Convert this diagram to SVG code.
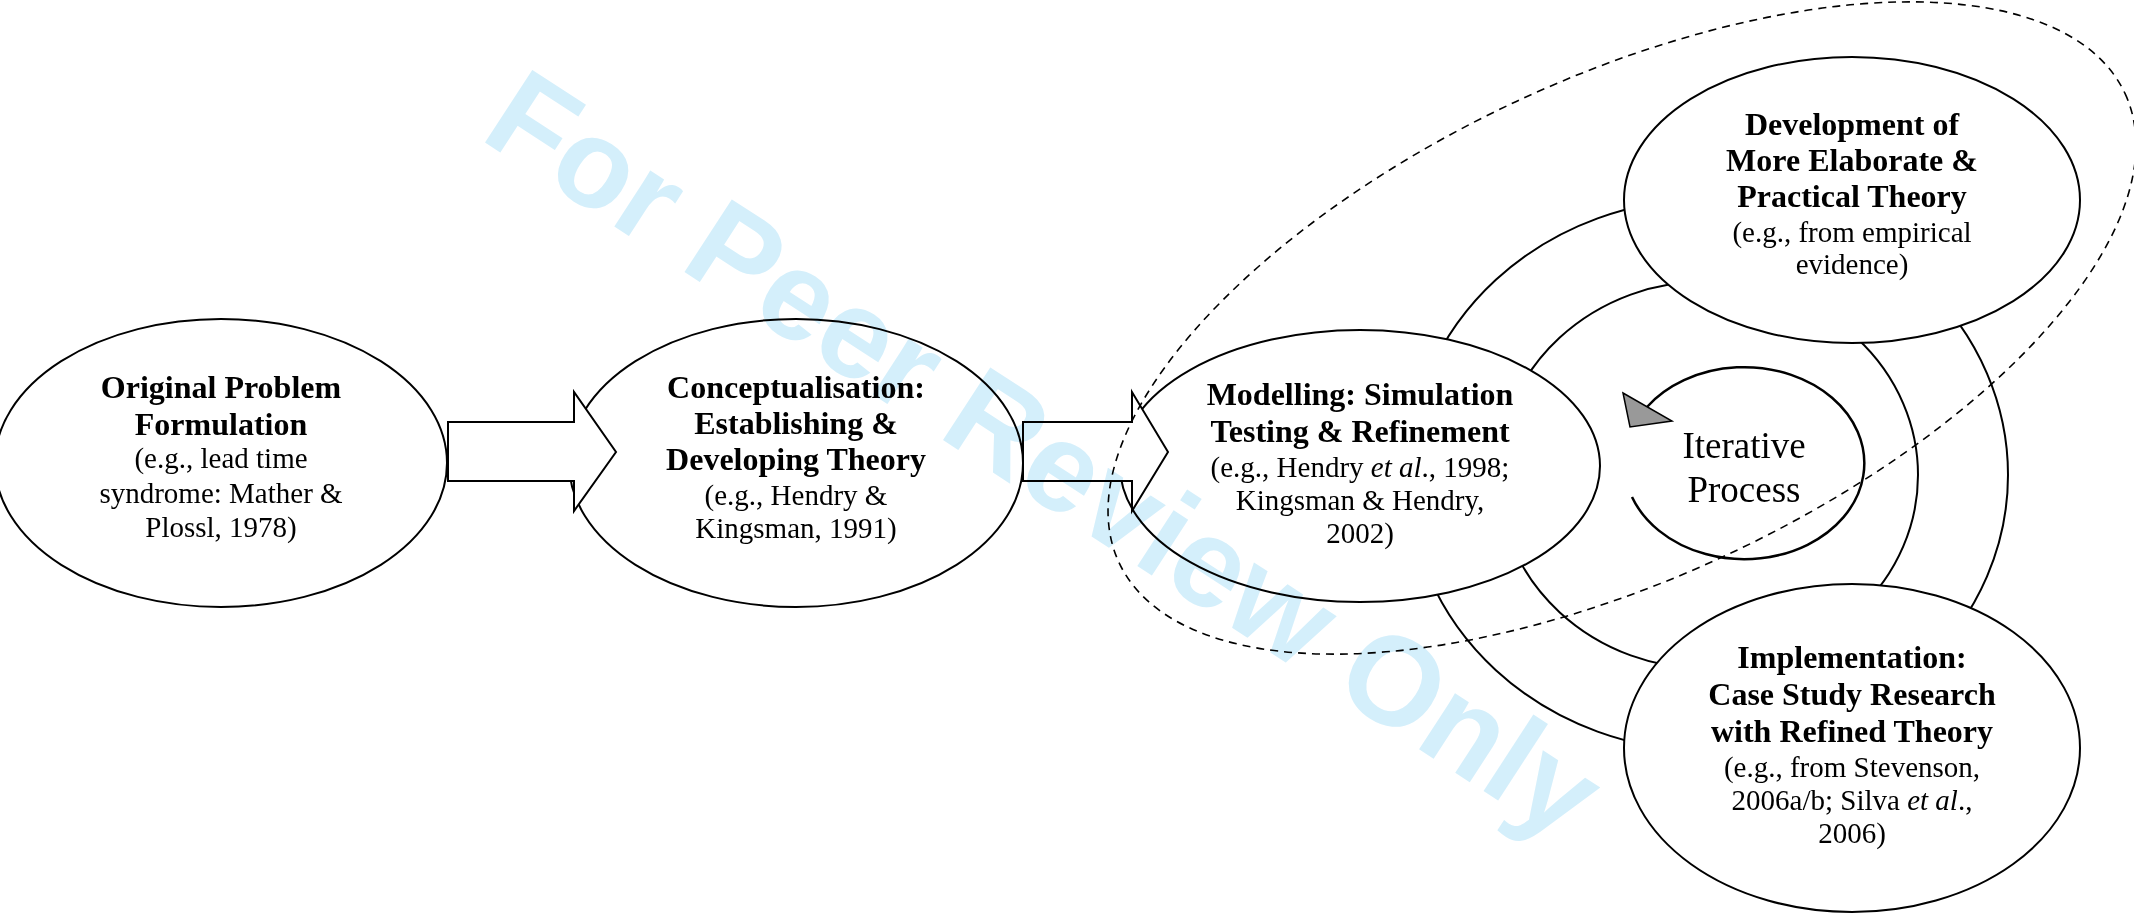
<svg xmlns="http://www.w3.org/2000/svg" width="2134" height="913" viewBox="0 0 2134 913">
<defs>
<style>
.node{fill:#fff;stroke:#000;stroke-width:2}
.ring{fill:none;stroke:#000;stroke-width:2}
.arrow{fill:#fff;stroke:#000;stroke-width:2;stroke-linejoin:miter}
.dash{fill:none;stroke:#000;stroke-width:1.6;stroke-dasharray:8 6}
.b{font-family:"Liberation Serif","Times New Roman",serif;font-weight:bold;font-size:32px;text-anchor:middle;fill:#000}
.r{font-family:"Liberation Serif","Times New Roman",serif;font-size:29px;text-anchor:middle;fill:#000}
.it{font-style:italic}
.wm{font-family:"Liberation Sans",Arial,sans-serif;font-weight:bold;font-size:126px;fill:#d4effb;mix-blend-mode:multiply}
</style>
</defs>
<rect width="2134" height="913" fill="#fff"/>

<g id="cycle-rings">
<ellipse class="ring" cx="1708" cy="475" rx="210" ry="194"/>
<ellipse class="ring" cx="1708" cy="475" rx="300" ry="276"/>
</g>

<g id="node-original">
<ellipse class="node" cx="221" cy="463" rx="226" ry="144"/>
<text class="b" x="221" y="398">Original Problem</text>
<text class="b" x="221" y="435">Formulation</text>
<text class="r" x="221" y="468">(e.g., lead time</text>
<text class="r" x="221" y="503">syndrome: Mather &amp;</text>
<text class="r" x="221" y="537">Plossl, 1978)</text>
</g>

<g id="node-conceptualisation">
<ellipse class="node" cx="796" cy="463" rx="227" ry="144"/>
<text class="b" x="796" y="398">Conceptualisation:</text>
<text class="b" x="796" y="434">Establishing &amp;</text>
<text class="b" x="796" y="470">Developing Theory</text>
<text class="r" x="796" y="505">(e.g., Hendry &amp;</text>
<text class="r" x="796" y="538">Kingsman, 1991)</text>
</g>

<g id="node-modelling">
<ellipse class="node" cx="1360" cy="466" rx="240" ry="136"/>
<text class="b" x="1360" y="405">Modelling: Simulation</text>
<text class="b" x="1360" y="442">Testing &amp; Refinement</text>
<text class="r" x="1360" y="477">(e.g., Hendry <tspan class="it">et al</tspan>., 1998;</text>
<text class="r" x="1360" y="510">Kingsman &amp; Hendry,</text>
<text class="r" x="1360" y="543">2002)</text>
</g>

<g id="node-development">
<ellipse class="node" cx="1852" cy="200" rx="228" ry="143"/>
<text class="b" x="1852" y="135">Development of</text>
<text class="b" x="1852" y="171">More Elaborate &amp;</text>
<text class="b" x="1852" y="207">Practical Theory</text>
<text class="r" x="1852" y="242">(e.g., from empirical</text>
<text class="r" x="1852" y="274">evidence)</text>
</g>

<g id="node-implementation">
<ellipse class="node" cx="1852" cy="748" rx="228" ry="164"/>
<text class="b" x="1852" y="668">Implementation:</text>
<text class="b" x="1852" y="705">Case Study Research</text>
<text class="b" x="1852" y="742">with Refined Theory</text>
<text class="r" x="1852" y="777">(e.g., from Stevenson,</text>
<text class="r" x="1852" y="810">2006a/b; Silva <tspan class="it">et al</tspan>.,</text>
<text class="r" x="1852" y="843">2006)</text>
</g>

<g id="connectors">
<polygon class="arrow" points="448,422 574,422 574,392 616,452 574,511 574,481 448,481"/>
<polygon class="arrow" points="1023,422 1132,422 1132,392 1168,452 1132,511 1132,481 1023,481"/>
</g>

<g id="iterative-process">
<path d="M1647,407 A120,96 0 1 1 1632,497" fill="none" stroke="#000" stroke-width="2.5"/>
<polygon points="1623,393 1672,421 1630,427" fill="#999" stroke="#000" stroke-width="1.5" stroke-linejoin="miter"/>
<text x="1744" y="458" font-family="Liberation Serif,'Times New Roman',serif" font-size="37" text-anchor="middle">Iterative</text>
<text x="1744" y="502" font-family="Liberation Serif,'Times New Roman',serif" font-size="37" text-anchor="middle">Process</text>
</g>

<g id="scope-boundary">
<ellipse class="dash" cx="0" cy="0" rx="555" ry="250" transform="translate(1622,328) rotate(-25)"/>
</g>

<g id="watermark">
<text class="wm" transform="translate(478,138) rotate(33)">For Peer Review Only</text>
</g>
</svg>
